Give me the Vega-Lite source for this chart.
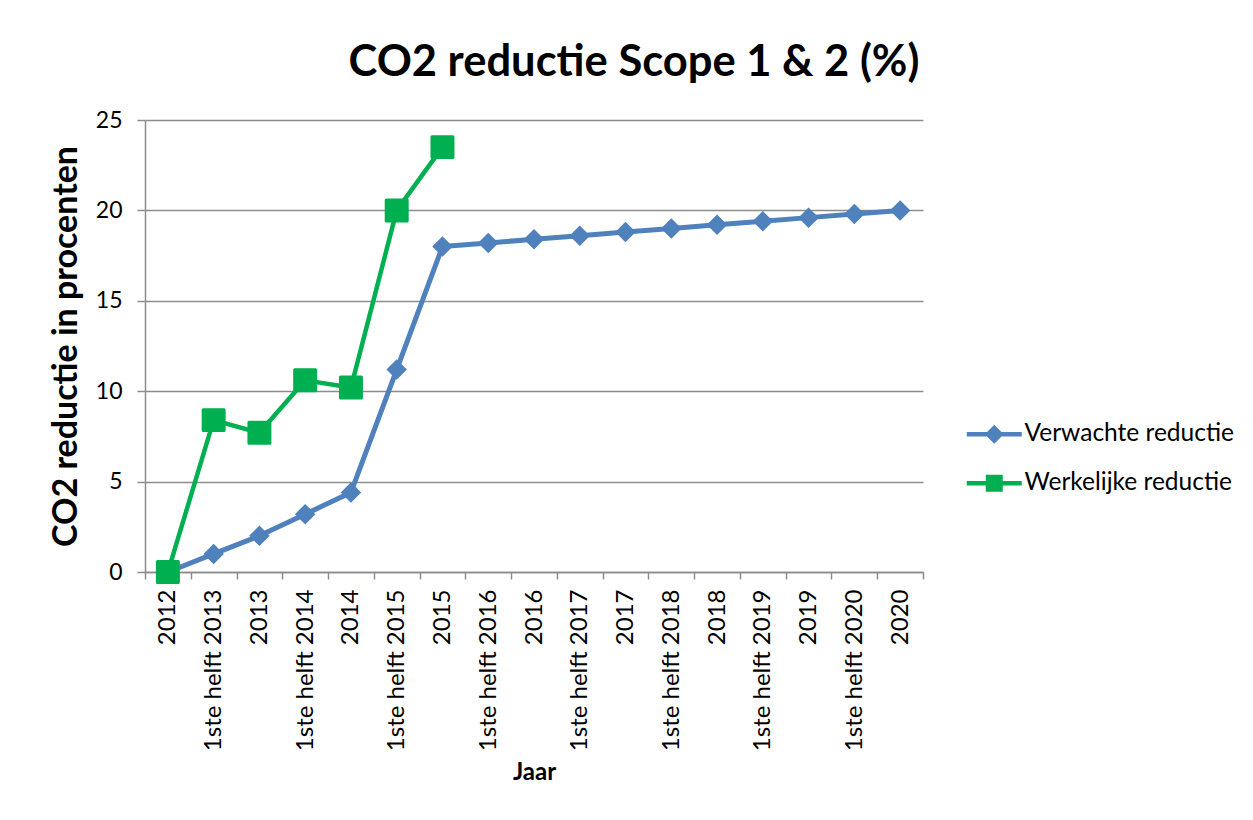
{
  "$schema": "https://vega.github.io/schema/vega-lite/v6.json",
  "autosize": {"type": "none"},
  "width": 778,
  "height": 452,
  "padding": {"left": 145, "top": 120, "right": 330, "bottom": 248},
  "background": "white",
  "config": {
    "font": "Lato",
    "view": {"stroke": null},
    "axis": {"labelFont": "Lato", "titleFont": "Lato", "labelColor": "black", "titleColor": "black"}
  },
  "title": {
    "text": "CO2 reductie Scope 1 & 2 (%)",
    "font": "Lato",
    "fontSize": 43.5,
    "fontWeight": "bold",
    "color": "black",
    "anchor": "middle",
    "frame": "group",
    "dx": 100,
    "offset": 24
  },
  "data": {
    "values": [
      {"cat": "2012", "series": "Verwachte reductie", "value": 0},
      {"cat": "1ste helft 2013", "series": "Verwachte reductie", "value": 1},
      {"cat": "2013", "series": "Verwachte reductie", "value": 2},
      {"cat": "1ste helft 2014", "series": "Verwachte reductie", "value": 3.2},
      {"cat": "2014", "series": "Verwachte reductie", "value": 4.4},
      {"cat": "1ste helft 2015", "series": "Verwachte reductie", "value": 11.2},
      {"cat": "2015", "series": "Verwachte reductie", "value": 18},
      {"cat": "1ste helft 2016", "series": "Verwachte reductie", "value": 18.2},
      {"cat": "2016", "series": "Verwachte reductie", "value": 18.4},
      {"cat": "1ste helft 2017", "series": "Verwachte reductie", "value": 18.6},
      {"cat": "2017", "series": "Verwachte reductie", "value": 18.8},
      {"cat": "1ste helft 2018", "series": "Verwachte reductie", "value": 19},
      {"cat": "2018", "series": "Verwachte reductie", "value": 19.2},
      {"cat": "1ste helft 2019", "series": "Verwachte reductie", "value": 19.4},
      {"cat": "2019", "series": "Verwachte reductie", "value": 19.6},
      {"cat": "1ste helft 2020", "series": "Verwachte reductie", "value": 19.8},
      {"cat": "2020", "series": "Verwachte reductie", "value": 20},
      {"cat": "2012", "series": "Werkelijke reductie", "value": 0},
      {"cat": "1ste helft 2013", "series": "Werkelijke reductie", "value": 8.4},
      {"cat": "2013", "series": "Werkelijke reductie", "value": 7.7},
      {"cat": "1ste helft 2014", "series": "Werkelijke reductie", "value": 10.6},
      {"cat": "2014", "series": "Werkelijke reductie", "value": 10.2},
      {"cat": "1ste helft 2015", "series": "Werkelijke reductie", "value": 20},
      {"cat": "2015", "series": "Werkelijke reductie", "value": 23.5}
    ]
  },
  "encoding": {
    "x": {
      "field": "cat",
      "type": "nominal",
      "scale": {
        "type": "band",
        "paddingInner": 0,
        "paddingOuter": 0,
        "domain": ["2012", "1ste helft 2013", "2013", "1ste helft 2014", "2014", "1ste helft 2015", "2015", "1ste helft 2016", "2016", "1ste helft 2017", "2017", "1ste helft 2018", "2018", "1ste helft 2019", "2019", "1ste helft 2020", "2020"]
      },
      "axis": {
        "title": "Jaar",
        "titleFontSize": 24,
        "titleFontWeight": "bold",
        "titlePadding": 10,
        "labelAngle": 270,
        "labelFontSize": 24,
        "labelPadding": 10,
        "labelOverlap": false,
        "labelLimit": 300,
        "tickBand": "extent",
        "tickSize": 7,
        "tickColor": "#8c8c8c",
        "tickWidth": 1.5,
        "domainColor": "#8c8c8c",
        "domainWidth": 1.5,
        "grid": false
      }
    },
    "y": {
      "field": "value",
      "type": "quantitative",
      "scale": {"domain": [0, 25], "nice": false},
      "axis": {
        "title": "CO2 reductie in procenten",
        "titleFontSize": 34,
        "titleFontWeight": "bold",
        "titlePadding": 12,
        "values": [0, 5, 10, 15, 20, 25],
        "labelFontSize": 23,
        "labelPadding": 15,
        "tickSize": 8,
        "tickColor": "#8c8c8c",
        "tickWidth": 1.5,
        "domainColor": "#8c8c8c",
        "domainWidth": 1.5,
        "grid": true,
        "gridColor": "#8c8c8c",
        "gridWidth": 1.5
      }
    }
  },
  "layer": [
    {
      "transform": [{"filter": "datum.series === 'Verwachte reductie'"}],
      "mark": {"type": "line", "strokeWidth": 5, "strokeJoin": "round", "color": "#4F81BD"}
    },
    {
      "transform": [{"filter": "datum.series === 'Verwachte reductie'"}],
      "mark": {"type": "point", "shape": "diamond", "filled": true, "size": 420, "opacity": 1, "color": "#4F81BD"}
    },
    {
      "transform": [{"filter": "datum.series === 'Werkelijke reductie'"}],
      "mark": {"type": "line", "strokeWidth": 4.5, "strokeJoin": "round", "color": "#00B050"}
    },
    {
      "transform": [{"filter": "datum.series === 'Werkelijke reductie'"}],
      "mark": {"type": "point", "shape": "square", "filled": true, "size": 440, "opacity": 1, "color": "#00B050", "stroke": "#00B050", "strokeWidth": 3, "strokeJoin": "round"}
    },
    {
      "mark": {"type": "point", "filled": true, "opacity": 0},
      "encoding": {
        "color": {
          "field": "series",
          "type": "nominal",
          "scale": {"domain": ["Verwachte reductie", "Werkelijke reductie"], "range": ["#4F81BD", "#00B050"]},
          "legend": {
            "title": null,
            "orient": "none",
            "legendX": 837,
            "legendY": 302,
            "padding": 0,
            "symbolSize": 400,
            "symbolOpacity": 1,
            "symbolStrokeWidth": 0,
            "labelFont": "Lato",
            "labelFontSize": 24.5,
            "labelColor": "black",
            "labelOffset": 18,
            "labelLimit": 400,
            "rowPadding": 24
          }
        },
        "shape": {
          "field": "series",
          "type": "nominal",
          "scale": {
            "domain": ["Verwachte reductie", "Werkelijke reductie"],
            "range": [
              "M-2.75,-0.23H2.75V0.23H-2.75Z M0,-0.95L0.95,0L0,0.95L-0.95,0Z",
              "M-2.75,-0.23H2.75V0.23H-2.75Z M-0.85,-0.85H0.85V0.85H-0.85Z"
            ]
          },
          "legend": {
            "title": null,
            "orient": "none",
            "legendX": 837,
            "legendY": 302,
            "padding": 0,
            "symbolSize": 400,
            "symbolOpacity": 1,
            "symbolStrokeWidth": 0,
            "labelFont": "Lato",
            "labelFontSize": 24.5,
            "labelColor": "black",
            "labelOffset": 18,
            "labelLimit": 400,
            "rowPadding": 24
          }
        }
      }
    }
  ]
}
